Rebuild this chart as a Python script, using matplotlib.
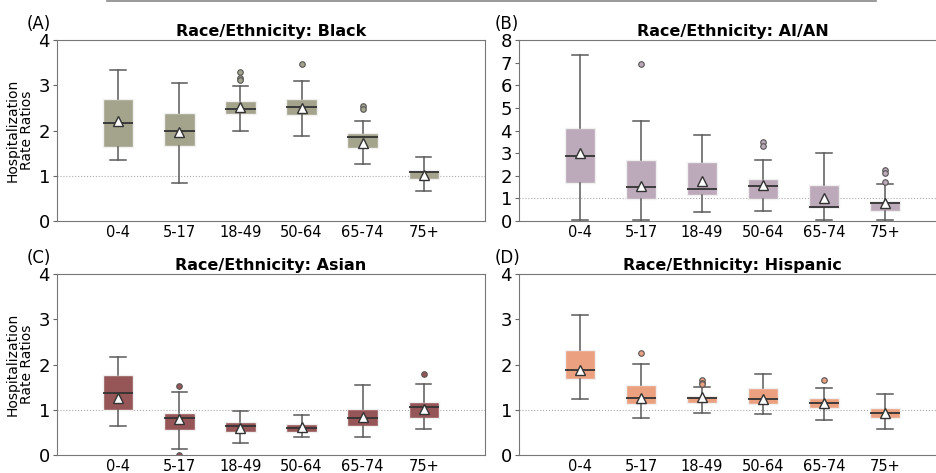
import numpy as np
import matplotlib.pyplot as plt
from matplotlib.lines import Line2D

ages = ["0-4", "5-17", "18-49", "50-64", "65-74", "75+"]

# Black
black_low = [1.34, 0.85, 2.00, 1.88, 1.25, 0.66]
black_q1 = [1.64, 1.66, 2.36, 2.35, 1.62, 0.93]
black_med = [2.16, 2.00, 2.48, 2.51, 1.86, 1.08]
black_q3 = [2.69, 2.38, 2.65, 2.70, 1.94, 1.13]
black_high = [3.34, 3.06, 2.98, 3.10, 2.22, 1.41]
black_mean = [2.20, 1.97, 2.51, 2.49, 1.72, 1.02]
black_fliers = [[], [], [3.30, 3.17, 3.11], [3.47], [2.54, 2.48], []]

# AI/AN
aian_low = [0.03, 0.03, 0.41, 0.43, 0.03, 0.03]
aian_q1 = [1.67, 0.98, 1.16, 0.95, 0.57, 0.43]
aian_med = [2.89, 1.50, 1.42, 1.56, 0.62, 0.81]
aian_q3 = [4.12, 2.71, 2.59, 1.87, 1.61, 0.90]
aian_high = [7.35, 4.40, 3.81, 2.68, 3.02, 1.64]
aian_mean = [3.00, 1.53, 1.75, 1.57, 1.00, 0.80]
aian_fliers = [[], [6.95], [], [3.50, 3.30], [], [2.24, 2.13, 1.72]]

# Asian
asian_low = [0.65, 0.13, 0.27, 0.40, 0.40, 0.57]
asian_q1 = [0.99, 0.56, 0.51, 0.51, 0.65, 0.82]
asian_med = [1.36, 0.82, 0.65, 0.60, 0.82, 1.07]
asian_q3 = [1.76, 0.93, 0.72, 0.68, 1.01, 1.17]
asian_high = [2.16, 1.39, 0.98, 0.88, 1.54, 1.56]
asian_mean = [1.26, 0.80, 0.60, 0.61, 0.84, 1.01]
asian_fliers = [[], [1.53, 0.01], [], [], [], [1.79]]

# Hispanic
hisp_low = [1.24, 0.82, 0.93, 0.90, 0.78, 0.57]
hisp_q1 = [1.68, 1.13, 1.15, 1.13, 1.05, 0.81]
hisp_med = [1.88, 1.26, 1.26, 1.23, 1.15, 0.92]
hisp_q3 = [2.33, 1.54, 1.30, 1.49, 1.26, 1.04]
hisp_high = [3.10, 2.01, 1.51, 1.78, 1.49, 1.35]
hisp_mean = [1.87, 1.27, 1.28, 1.24, 1.16, 0.92]
hisp_fliers = [[], [2.26], [1.65, 1.60, 1.56], [], [1.65], []]

panels = [
    ("(A)", "Race/Ethnicity: Black", "#a3a48b",
     black_low, black_q1, black_med, black_q3, black_high, black_mean, black_fliers, 4),
    ("(B)", "Race/Ethnicity: AI/AN", "#bca9b9",
     aian_low, aian_q1, aian_med, aian_q3, aian_high, aian_mean, aian_fliers, 8),
    ("(C)", "Race/Ethnicity: Asian", "#965556",
     asian_low, asian_q1, asian_med, asian_q3, asian_high, asian_mean, asian_fliers, 4),
    ("(D)", "Race/Ethnicity: Hispanic", "#eba17f",
     hisp_low, hisp_q1, hisp_med, hisp_q3, hisp_high, hisp_mean, hisp_fliers, 4),
]

# axes rectangles [left, bottom, width, height] in figure fraction
rects = [
    [0.0608, 0.5328, 0.4568, 0.3826],
    [0.5539, 0.5328, 0.4557, 0.3826],
    [0.0608, 0.0380, 0.4568, 0.3827],
    [0.5539, 0.0380, 0.4557, 0.3827],
]
tag_x = [-0.07, -0.058, -0.07, -0.058]

fig = plt.figure(figsize=(9.37, 4.73), dpi=100)
fig.add_artist(Line2D([107/937, 876/937], [0.998, 0.998], color="#888888", lw=1.2))

for i, (tag, title, col, lo, q1, med, q3, hi, mn, fl, ymax) in enumerate(panels):
    ax = fig.add_axes(rects[i])
    stats = []
    for k in range(len(ages)):
        stats.append(dict(whislo=lo[k], q1=q1[k], med=med[k], q3=q3[k],
                          whishi=hi[k], mean=mn[k], fliers=fl[k], label=ages[k]))
    ax.axhline(1, color="#aaaaaa", lw=0.8, ls=":", zorder=0)
    ax.bxp(stats, positions=np.arange(len(ages)), widths=0.5, patch_artist=True,
           showmeans=True, showfliers=True,
           boxprops=dict(facecolor=col, edgecolor="#f0f0f0", lw=1),
           medianprops=dict(color="#333333", lw=1.3),
           whiskerprops=dict(color="#5a5a5a", lw=1.1),
           capprops=dict(color="#5a5a5a", lw=1.1),
           meanprops=dict(marker="^", markerfacecolor="white",
                          markeredgecolor="#333333", markersize=6.5),
           flierprops=dict(marker="o", markerfacecolor=col,
                           markeredgecolor="#555555", markersize=4, markeredgewidth=0.8))
    ax.set_xlim(-1, 6)
    ax.set_ylim(0, ymax)
    ax.set_yticks(range(0, ymax + 1))
    ax.set_xticks(np.arange(len(ages)))
    ax.set_xticklabels(ages, fontsize=10.5)
    ax.tick_params(axis="x", length=0, pad=3)
    ax.tick_params(axis="y", labelsize=13, length=3, color="#666666", pad=2)
    for s in ax.spines.values():
        s.set_color("#777777")
    ax.set_title(title, fontsize=11.5, fontweight="bold", pad=3)
    if i in (0, 2):
        ax.set_ylabel("Hospitalization\nRate Ratios", fontsize=10, labelpad=3, linespacing=1.05)
    ax.text(tag_x[i], 1.14, tag, transform=ax.transAxes, fontsize=12, ha="left", va="top")

plt.savefig("out.png", dpi=100)
